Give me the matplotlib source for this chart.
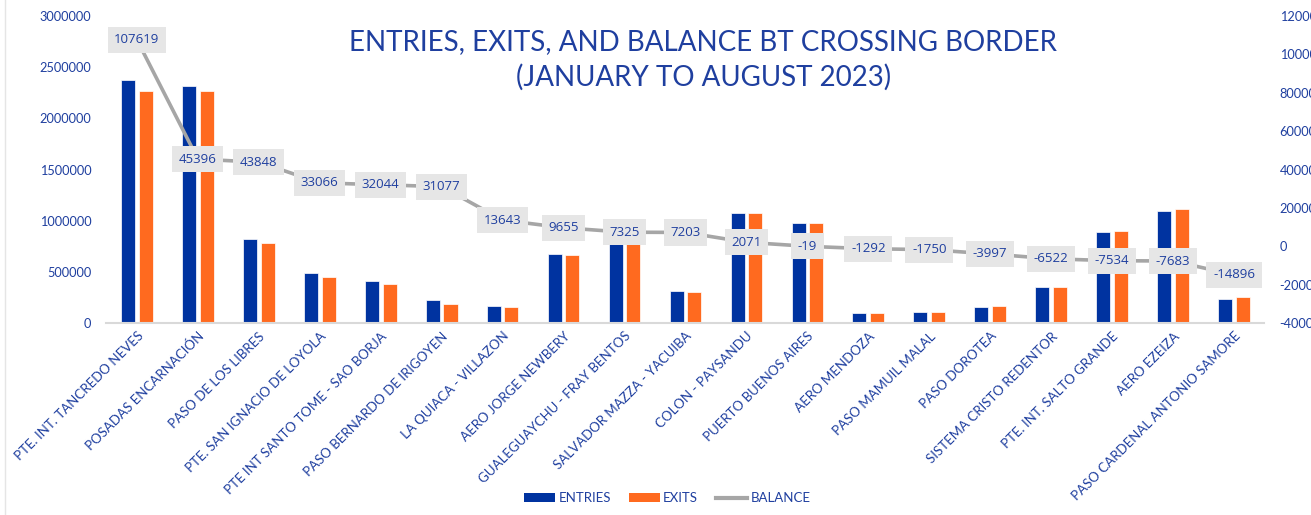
import matplotlib
matplotlib.use("Agg")
import matplotlib.pyplot as plt
import numpy as np
from matplotlib.lines import Line2D
from matplotlib.patches import Patch

categories = [
    "PTE. INT. TANCREDO NEVES", "POSADAS ENCARNACIÓN", "PASO DE LOS LIBRES",
    "PTE. SAN IGNACIO DE LOYOLA", "PTE INT SANTO TOME - SAO BORJA",
    "PASO BERNARDO DE IRIGOYEN", "LA QUIACA - VILLAZON", "AERO JORGE NEWBERY",
    "GUALEGUAYCHU - FRAY BENTOS", "SALVADOR MAZZA - YACUIBA", "COLON - PAYSANDU",
    "PUERTO BUENOS AIRES", "AERO MENDOZA", "PASO MAMUIL MALAL", "PASO DOROTEA",
    "SISTEMA CRISTO REDENTOR", "PTE. INT. SALTO GRANDE", "AERO EZEIZA",
    "PASO CARDENAL ANTONIO SAMORE",
]
entries = [2375000, 2316000, 821000, 489000, 410000, 221000, 169000, 677000,
           778000, 309000, 1075000, 980000, 94000, 107000, 159000, 352000,
           892000, 1097000, 235000]
exits = [2267000, 2267000, 782000, 450000, 381000, 189000, 152000, 664000,
         771000, 302000, 1073000, 980000, 94000, 107000, 163000, 352000,
         902000, 1110000, 254000]
balance = [107619, 45396, 43848, 33066, 32044, 31077, 13643, 9655, 7325, 7203,
           2071, -19, -1292, -1750, -3997, -6522, -7534, -7683, -14896]
left_ticks = [0, 500000, 1000000, 1500000, 2000000, 2500000, 3000000]
right_ticks = [-40000, -20000, 0, 20000, 40000, 60000, 80000, 100000, 120000]

BLUE = "#0033A0"
ORANGE = "#FF6A1F"
GREY = "#A6A6A6"
TXT = "#1F3F9F"
FONT = "Lato"

plt.rcParams["font.family"] = [FONT, "DejaVu Sans"]

fig = plt.figure(figsize=(13.11, 5.15), dpi=100)
ax = fig.add_axes([0.0812, 0.3728, 0.8833, 0.5961])
ax2 = ax.twinx()

x = np.arange(len(categories))
w = 0.23
off = 0.145
ax.bar(x - off, entries, width=w, color=BLUE, edgecolor="white", linewidth=0.5, zorder=2)
ax.bar(x + off, exits, width=w, color=ORANGE, edgecolor="white", linewidth=0.5, zorder=2)
ax.set_xlim(-0.5, len(categories) - 0.5)
ax.set_ylim(0, 3000000)
ax.set_yticks(left_ticks)
ax.set_yticklabels([str(t) for t in left_ticks], color=TXT, fontsize=9.2)
ax.tick_params(axis="y", length=0, pad=11)
ax.tick_params(axis="x", length=0, pad=5)
ax.set_xticks(x)
ax.set_xticklabels(categories, rotation=45, ha="right", rotation_mode="anchor",
                   color=TXT, fontsize=9.5)
for s in ["top", "left", "right"]:
    ax.spines[s].set_visible(False)
ax.spines["bottom"].set_color("#D9D9D9")
ax.spines["bottom"].set_linewidth(1.5)

ax2.plot(x, balance, color=GREY, linewidth=2.6, zorder=3)
ax2.set_ylim(-40000, 120000)
ax2.set_yticks(right_ticks)
ax2.set_yticklabels([str(t) for t in right_ticks], color=TXT, fontsize=9.2)
ax2.tick_params(axis="y", length=0, pad=11)
for s in ["top", "left", "right", "bottom"]:
    ax2.spines[s].set_visible(False)
for xi, b in zip(x, balance):
    ax2.text(xi, b, str(b), ha="center", va="center", color=TXT, fontsize=9.5,
             fontfamily=["Open Sans", "DejaVu Sans"], zorder=5,
             bbox=dict(boxstyle="square,pad=0.5", facecolor="#E6E6E6", edgecolor="none"))

fig.text(0.5366, 0.918, "ENTRIES, EXITS, AND BALANCE BT CROSSING BORDER",
         ha="center", va="center", color=TXT, fontsize=20)
fig.text(0.5366, 0.850, "(JANUARY TO AUGUST 2023)",
         ha="center", va="center", color=TXT, fontsize=20)

handles = [Patch(facecolor=BLUE), Patch(facecolor=ORANGE),
           Line2D([0], [0], color=GREY, linewidth=3)]
fig.legend(handles, ["ENTRIES", "EXITS", "BALANCE"], loc="center",
           bbox_to_anchor=(0.509, 0.033), ncol=3, frameon=False,
           fontsize=9.5, labelcolor=TXT, handlelength=2.35, handleheight=0.6,
           handletextpad=0.25, columnspacing=1.35)

fig.add_artist(Line2D([0.004, 0.004], [0.0, 1.0], color="#E5E5E5", linewidth=1))

fig.savefig("out.png", dpi=100)
